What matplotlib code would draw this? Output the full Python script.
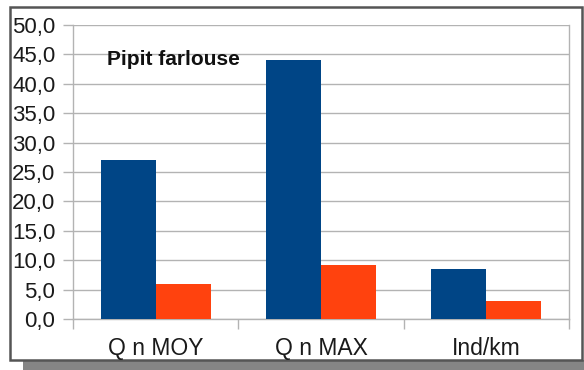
import matplotlib
matplotlib.use("Agg")
import matplotlib.pyplot as plt
from matplotlib.patches import Rectangle
import numpy as np

categories = ["Q n MOY", "Q n MAX", "Ind/km"]
series_blue = [27.1, 44.0, 8.5]
series_orange = [5.9, 9.2, 3.1]
yticks = [0, 5, 10, 15, 20, 25, 30, 35, 40, 45, 50]
ytick_labels = ["0,0", "5,0", "10,0", "15,0", "20,0", "25,0", "30,0", "35,0", "40,0", "45,0", "50,0"]
title = "Pipit farlouse"

plt.rcParams['font.family'] = ['Liberation Sans', 'DejaVu Sans']

W, H = 584, 370
fig = plt.figure(figsize=(W / 100, H / 100), dpi=100)
fig.patch.set_facecolor("white")

# shadow and frame
fig.patches.append(Rectangle((23 / W, 0), (W - 23) / W, 10 / H, transform=fig.transFigure,
                             facecolor="#858585", edgecolor="none", zorder=0))
fig.patches.append(Rectangle((10 / W, 1 - 360 / H), (582 - 10) / W, (360 - 7) / H,
                             transform=fig.transFigure, facecolor="white",
                             edgecolor="#555555", linewidth=1.8, zorder=1))

ax = fig.add_axes([73 / W, 1 - 319 / H, (569 - 73) / W, (319 - 25) / H])
ax.set_facecolor("none")
ax.set_zorder(2)

x = np.arange(len(categories))
w = 1 / 3
ax.bar(x - w / 2, series_blue, width=w, color="#004586", zorder=3)
ax.bar(x + w / 2, series_orange, width=w, color="#ff420e", zorder=3)

ax.set_xlim(-0.5, len(categories) - 0.5)
ax.set_ylim(0, 50)
ax.set_yticks(yticks)
ax.set_yticklabels(ytick_labels)
ax.yaxis.grid(True, color="#b3b3b3", linewidth=1.0, zorder=0)
ax.set_axisbelow(True)

ax.set_xticks(x)
ax.set_xticklabels(categories)
ax.set_xticks(np.arange(-0.5, len(categories)), minor=True)
ax.tick_params(axis="x", which="major", length=0, pad=13, labelsize=16.5, labelcolor="#1a1a1a")
ax.tick_params(axis="x", which="minor", length=10 * 0.72, width=1.0, color="#b3b3b3", direction="out")
ax.tick_params(axis="y", length=10 * 0.72, width=1.0, color="#b3b3b3", pad=5.5,
               labelsize=16, labelcolor="#1a1a1a")

for side in ["left", "right", "bottom"]:
    ax.spines[side].set_color("#b3b3b3")
    ax.spines[side].set_linewidth(1.0)
ax.spines["top"].set_visible(False)

fig.text(107 / W, 1 - 65 / H, title, fontsize=15, fontweight="bold", color="#111111",
         ha="left", va="baseline", zorder=5)

fig.savefig("out.png", dpi=100, facecolor="white")
